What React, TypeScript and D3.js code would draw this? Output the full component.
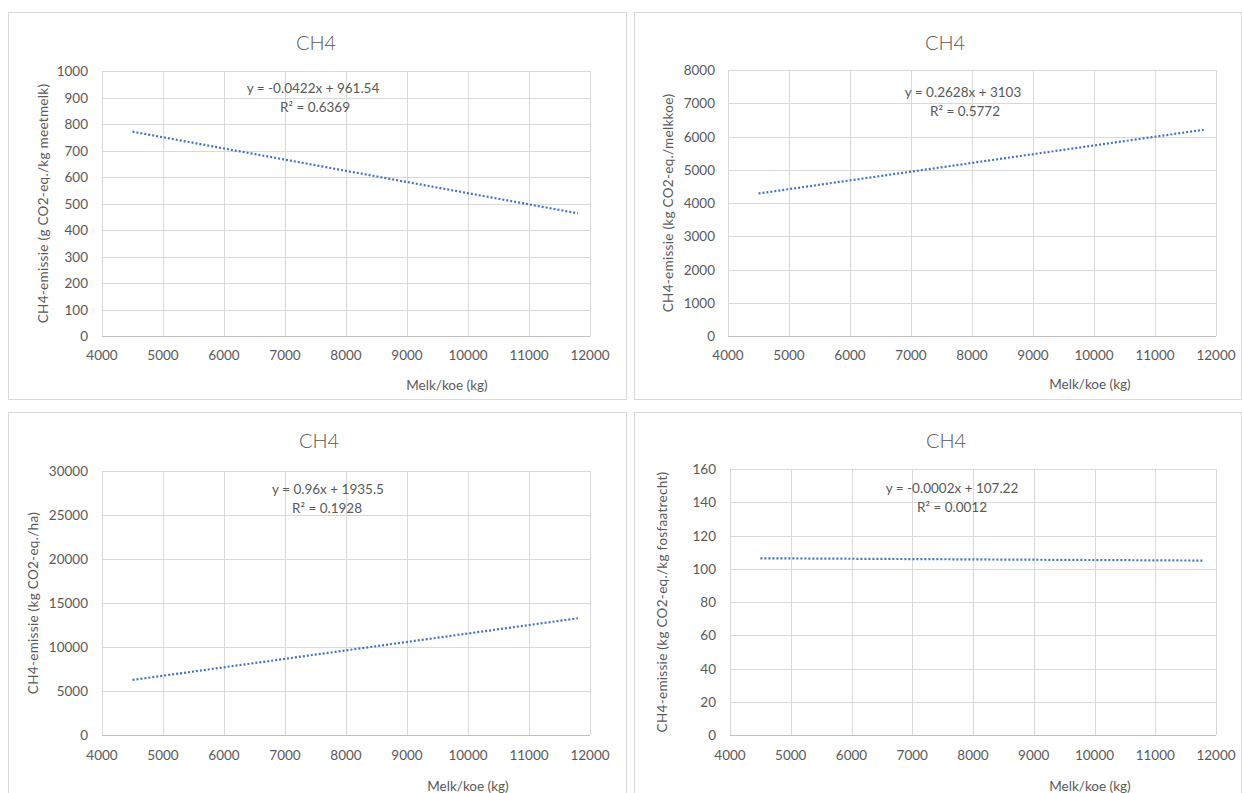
import * as d3 from "d3";
import * as React from "react";

// data
const title = "CH4";
const xLabel = "Melk/koe (kg)";
const xTicks = [4000, 5000, 6000, 7000, 8000, 9000, 10000, 11000, 12000];
const yLabels = [
  "CH4-emissie (g CO2-eq./kg meetmelk)",
  "CH4-emissie (kg CO2-eq./melkkoe)",
  "CH4-emissie (kg CO2-eq./ha)",
  "CH4-emissie (kg CO2-eq./kg fosfaatrecht)",
];
const yMax = [1000, 8000, 30000, 160];
const yStep = [100, 1000, 5000, 20];
const equations = [
  "y = -0.0422x + 961.54",
  "y = 0.2628x + 3103",
  "y = 0.96x + 1935.5",
  "y = -0.0002x + 107.22",
];
const rSquared = ["R² = 0.6369", "R² = 0.5772", "R² = 0.1928", "R² = 0.0012"];
const trendX = [4500, 11800];
const trendStart = [771, 4286, 6256, 106.3];
const trendEnd = [463, 6204, 13264, 104.9];

// where each chart sits in the screenshot
const layout = [
  { box: [8, 12, 618, 387], plot: [102, 590, 71, 336], title: [316, 42], eq: [313, 88], r2: [315, 107], yLab: 43, tickRight: 88, xTickY: 355, xLab: [447, 385] },
  { box: [634, 12, 607, 387], plot: [728, 1216, 70, 336], title: [945, 42], eq: [963, 92], r2: [965, 111], yLab: 668, tickRight: 715, xTickY: 355, xLab: [1090, 384] },
  { box: [8, 412, 618, 390], plot: [102, 590, 471, 735], title: [319, 440], eq: [328, 489], r2: [327, 508], yLab: 33, tickRight: 88, xTickY: 755, xLab: [468, 786] },
  { box: [634, 412, 607, 390], plot: [730, 1216, 469, 735], title: [946, 440], eq: [952, 488], r2: [952, 507], yLab: 662, tickRight: 716, xTickY: 755, xLab: [1090, 786] },
];

const textColor = "#595959";
const gridColor = "#d9d9d9";
const lineColor = "#4472c4";
const font = "Lato, 'Open Sans', sans-serif";

function Panel({ i }: { i: number }) {
  const L = layout[i];
  const [left, right, top, bottom] = L.plot;
  const x = d3.scaleLinear().domain([xTicks[0], xTicks[xTicks.length - 1]]).range([left, right]);
  const y = d3.scaleLinear().domain([0, yMax[i]]).range([bottom, top]);
  const yTicks = d3.range(0, yMax[i] + yStep[i] / 2, yStep[i]);
  const line = d3.line<[number, number]>().x(d => x(d[0])).y(d => y(d[1]));
  const pts: [number, number][] = [[trendX[0], trendStart[i]], [trendX[1], trendEnd[i]]];

  return (
    <g fontFamily={font} fill={textColor}>
      <rect x={L.box[0] + 0.5} y={L.box[1] + 0.5} width={L.box[2]} height={L.box[3]} fill="#fff" stroke={gridColor} />
      {xTicks.map(t => (
        <line key={"gx" + t} x1={Math.round(x(t)) + 0.5} x2={Math.round(x(t)) + 0.5} y1={top} y2={bottom} stroke={gridColor} />
      ))}
      {yTicks.map(t => (
        <line key={"gy" + t} x1={left} x2={right} y1={Math.round(y(t)) + 0.5} y2={Math.round(y(t)) + 0.5} stroke={gridColor} />
      ))}
      <line x1={left} x2={right} y1={bottom + 0.5} y2={bottom + 0.5} stroke="#bfbfbf" />
      {yTicks.map(t => (
        <text key={"ty" + t} x={L.tickRight} y={y(t)} textAnchor="end" dominantBaseline="central" fontSize={13.5}>
          {t}
        </text>
      ))}
      {xTicks.map(t => (
        <text key={"tx" + t} x={x(t)} y={L.xTickY} textAnchor="middle" dominantBaseline="central" fontSize={13.5}>
          {t}
        </text>
      ))}
      <path d={line(pts) || ""} fill="none" stroke={lineColor} strokeWidth={2.2} strokeDasharray="2 2" />
      <text x={L.title[0]} y={L.title[1]} textAnchor="middle" dominantBaseline="central" fontSize={20} fontWeight={300}>
        {title}
      </text>
      <text x={L.eq[0]} y={L.eq[1]} textAnchor="middle" dominantBaseline="central" fontSize={13.5}>
        {equations[i]}
      </text>
      <text x={L.r2[0]} y={L.r2[1]} textAnchor="middle" dominantBaseline="central" fontSize={13.5}>
        {rSquared[i]}
      </text>
      <text x={L.xLab[0]} y={L.xLab[1]} textAnchor="middle" dominantBaseline="central" fontSize={13.5}>
        {xLabel}
      </text>
      <text
        transform={`translate(${L.yLab},${(top + bottom) / 2}) rotate(-90)`}
        textAnchor="middle"
        dominantBaseline="central"
        fontSize={13.5}
        letterSpacing={0.3}
      >
        {yLabels[i]}
      </text>
    </g>
  );
}

export default function App() {
  return (
    <div style={{ position: "fixed", left: 0, top: 0 }}>
      <svg width={1242} height={793} style={{ display: "block", background: "#fff" }}>
        {layout.map((_, i) => (
          <Panel key={i} i={i} />
        ))}
      </svg>
    </div>
  );
}
